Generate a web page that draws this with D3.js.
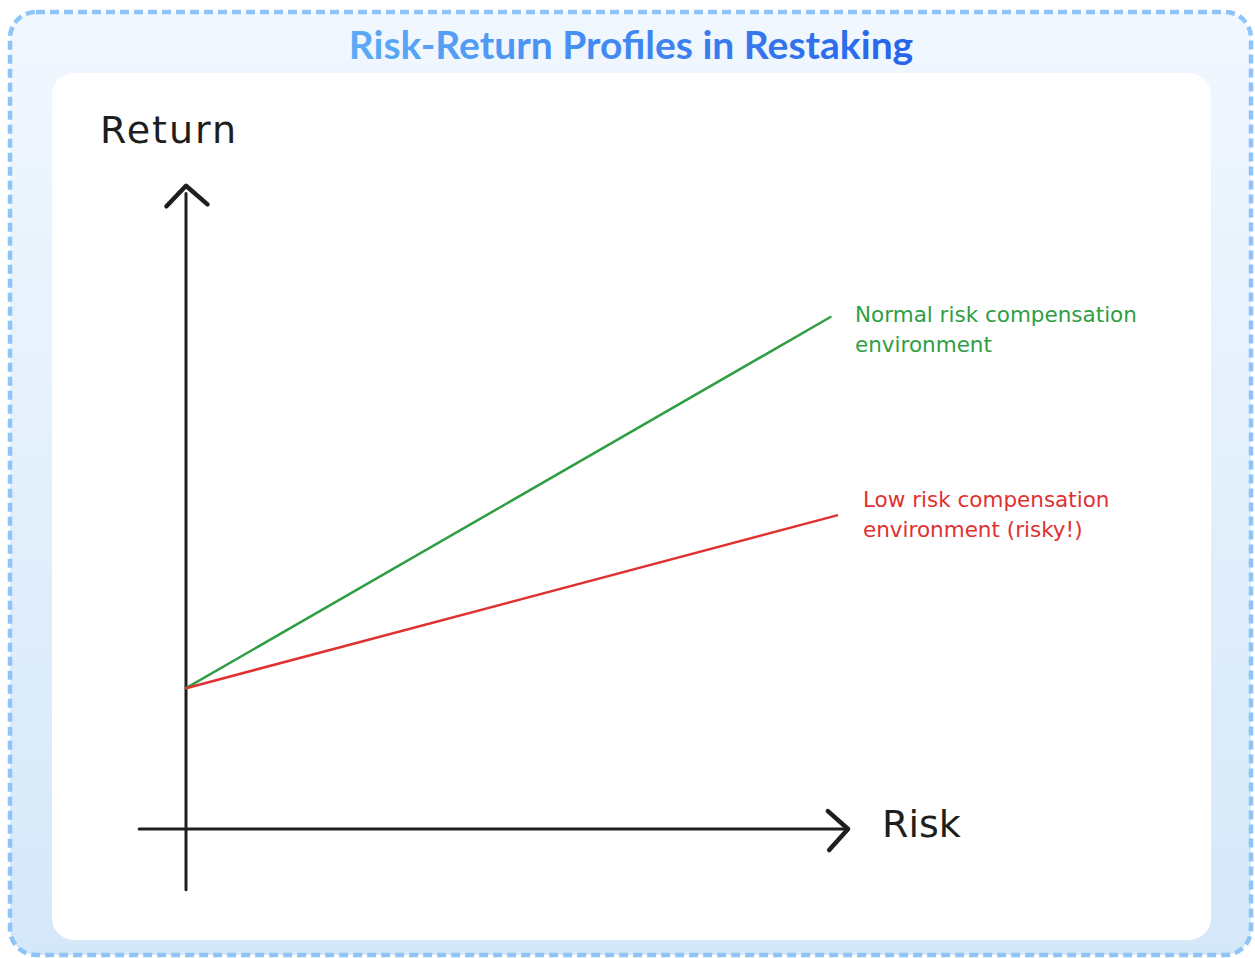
<!DOCTYPE html>
<html>
<head>
<meta charset="utf-8">
<script src="https://cdn.jsdelivr.net/npm/d3@7"></script>
<style>
  html, body { margin: 0; padding: 0; background: #ffffff; }
  svg { display: block; }
</style>
</head>
<body>
<svg id="chart" width="1255" height="958"></svg>
<script>
// Conceptual risk/return profiles: both start at the same base return
const profileNames = ["Normal risk compensation environment", "Low risk compensation environment (risky!)"];
const profileColors = ["#2f9e44", "#e03131"];
const profileStart = [[0, 2.2], [0, 2.2]];
const profileEnd = [[9.9, 8.0], [10.0, 4.9]];
const labelLines = [
  ["Normal risk compensation", "environment"],
  ["Low risk compensation", "environment (risky!)"]
];
const axisTitles = ["Risk", "Return"];

const W = 1255, H = 958;
const svg = d3.select("#chart");
const defs = svg.append("defs");

// Panel background and title gradient
const bg = defs.append("linearGradient").attr("id", "panelBg")
  .attr("x1", 0).attr("y1", 0).attr("x2", 0).attr("y2", 1);
bg.append("stop").attr("offset", "0%").attr("stop-color", "#f1f7fe");
bg.append("stop").attr("offset", "100%").attr("stop-color", "#d5e8f9");

const tg = defs.append("linearGradient").attr("id", "titleGrad")
  .attr("x1", 0).attr("y1", 0).attr("x2", 1).attr("y2", 0);
tg.append("stop").attr("offset", "0%").attr("stop-color", "#5dabf6");
tg.append("stop").attr("offset", "100%").attr("stop-color", "#2563eb");

svg.append("rect")
  .attr("x", 10).attr("y", 12).attr("width", W - 14).attr("height", H - 15)
  .attr("rx", 26).attr("ry", 26)
  .attr("fill", "url(#panelBg)")
  .attr("stroke", "#8ec4f7").attr("stroke-width", 4.5)
  .attr("stroke-dasharray", "9 5");

svg.append("text")
  .attr("x", 631).attr("y", 59)
  .attr("text-anchor", "middle")
  .attr("font-family", "Lato, 'Open Sans', sans-serif")
  .attr("font-weight", 700)
  .attr("font-size", 39)
  .attr("fill", "url(#titleGrad)")
  .text("Risk-Return Profiles in Restaking");

// White card holding the sketch
svg.append("rect")
  .attr("x", 52).attr("y", 73).attr("width", 1159).attr("height", 867)
  .attr("rx", 22).attr("ry", 22)
  .attr("fill", "#ffffff");

// Scales
const x = d3.scaleLinear().domain([0, 10]).range([186, 837]);
const y = d3.scaleLinear().domain([0, 10]).range([829, 189]);

const ink = "#1e1e1e";
const hand = "'DejaVu Sans', 'Noto Sans', sans-serif";
const g = svg.append("g");

// Axes
g.append("line")
  .attr("x1", x(-0.72)).attr("y1", y(0))
  .attr("x2", x(10.15)).attr("y2", y(0))
  .attr("stroke", ink).attr("stroke-width", 3).attr("stroke-linecap", "round");
g.append("line")
  .attr("x1", x(0)).attr("y1", y(-0.95))
  .attr("x2", x(0)).attr("y2", y(9.93))
  .attr("stroke", ink).attr("stroke-width", 3).attr("stroke-linecap", "round");

// Arrow heads
const lineGen = d3.line().x(d => x(d[0])).y(d => y(d[1]));
g.append("path")
  .attr("d", lineGen([[9.86, 0.28], [10.17, 0], [9.88, -0.33]]))
  .attr("fill", "none").attr("stroke", ink).attr("stroke-width", 4.5)
  .attr("stroke-linecap", "round").attr("stroke-linejoin", "round");
g.append("path")
  .attr("d", lineGen([[-0.3, 9.73], [0, 10.05], [0.33, 9.76]]))
  .attr("fill", "none").attr("stroke", ink).attr("stroke-width", 4.5)
  .attr("stroke-linecap", "round").attr("stroke-linejoin", "round");

// Axis titles
g.append("text")
  .attr("x", 100).attr("y", 143)
  .attr("font-family", hand).attr("font-size", 38).attr("letter-spacing", 2)
  .attr("fill", ink)
  .text(axisTitles[1]);
g.append("text")
  .attr("x", 882).attr("y", 837)
  .attr("font-family", hand).attr("font-size", 38)
  .attr("fill", ink)
  .text(axisTitles[0]);

// Profile lines
profileNames.forEach((name, i) => {
  g.append("path")
    .attr("d", lineGen([profileStart[i], profileEnd[i]]))
    .attr("fill", "none")
    .attr("stroke", profileColors[i])
    .attr("stroke-width", 2.5)
    .attr("stroke-linecap", "round");
});

// Profile labels
const labelPos = [[855, 322], [863, 507]];
labelLines.forEach((lines, i) => {
  const t = g.append("text")
    .attr("font-family", hand).attr("font-size", 21.5)
    .attr("fill", profileColors[i]);
  lines.forEach((ln, j) => {
    t.append("tspan")
      .attr("x", labelPos[i][0])
      .attr("y", labelPos[i][1] + j * 30)
      .text(ln);
  });
});
</script>
</body>
</html>
